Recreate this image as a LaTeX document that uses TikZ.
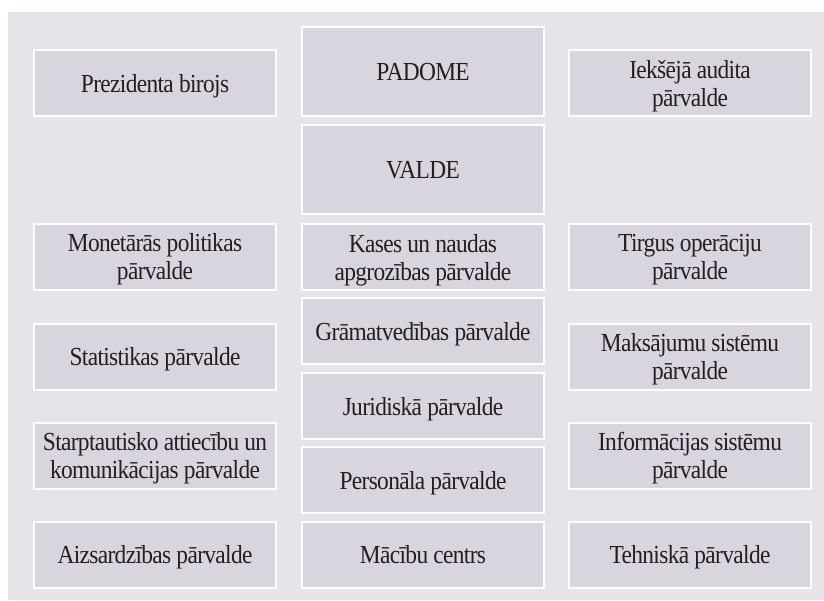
\documentclass[tikz,border=0pt]{standalone}
\usepackage{fontspec}
\setmainfont[FakeStretch=0.9,LetterSpace=-2.5]{Liberation Serif}
\definecolor{panelbg}{HTML}{E6E4E9}
\definecolor{boxfill}{HTML}{D8D5DF}
\definecolor{txt}{HTML}{231F20}
\begin{document}
\begin{tikzpicture}[x=1pt,y=-1pt,
  unit/.style={rectangle, draw=white, line width=2pt, fill=boxfill,
    minimum width=242pt, minimum height=66pt, text width=238pt, align=flush center,
    inner sep=0pt, text=txt, font=\fontsize{26pt}{28pt}\selectfont,
    execute at begin node={\rule[-6pt]{0pt}{30pt}}},
  tall/.style={unit, minimum height=89pt}]
\useasboundingbox (0,0) rectangle (824,600);
\fill[white] (0,0) rectangle (824,600);
\fill[panelbg] (8,12) rectangle (824,600);
% left column
\node[unit] (prez) at (155,83) {Prezidenta birojs};
\node[unit] (mon) at (155,256.5) {Monetārās politikas\\pārvalde};
\node[unit] (stat) at (155,356.5) {Statistikas pārvalde};
\node[unit] (starpt) at (155,455.5) {Starptautisko attiecību un\\komunikācijas pārvalde};
\node[unit] (aizs) at (155,554.5) {Aizsardzības pārvalde};
% middle column
\node[tall] (padome) at (423,71.5) {PADOME};
\node[tall] (valde) at (423,169) {VALDE};
\node[unit] (kases) at (423,257) {Kases un naudas\\apgrozības pārvalde};
\node[unit] (gram) at (423,331) {Grāmatvedības pārvalde};
\node[unit] (jur) at (423,406) {Juridiskā pārvalde};
\node[unit] (pers) at (423,480) {Personāla pārvalde};
\node[unit] (mac) at (423,554.5) {Mācību centrs};
% right column
\node[unit] (iek) at (690,83) {Iekšējā audita\\pārvalde};
\node[unit] (tirg) at (690,256.5) {Tirgus operāciju\\pārvalde};
\node[unit] (maks) at (690,356.5) {Maksājumu sistēmu\\pārvalde};
\node[unit] (inf) at (690,455.5) {Informācijas sistēmu\\pārvalde};
\node[unit] (tehn) at (690,554.5) {Tehniskā pārvalde};
\end{tikzpicture}
\end{document}
